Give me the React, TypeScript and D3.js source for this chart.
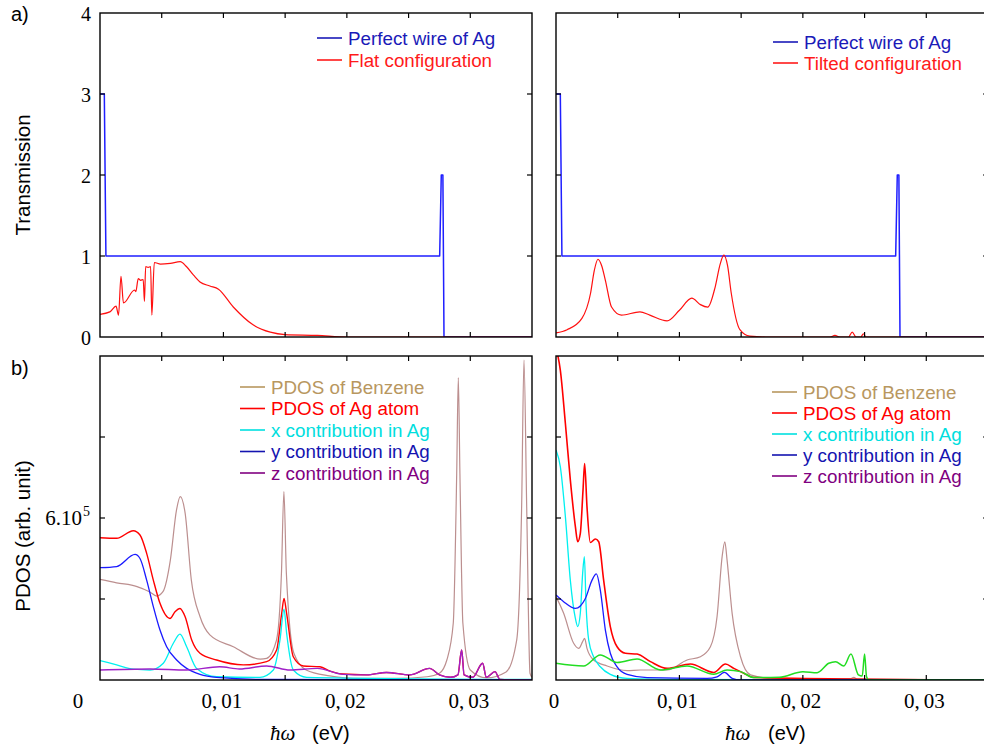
import React from "react";
import * as d3 from "d3";

// ---------- data ----------
const xTickValues = [0, 0.005, 0.01, 0.015, 0.02, 0.025, 0.03, 0.035];
const xTickLabels = ["0", "0,01", "0,02", "0,03"];
const xTickLabelValues = [0, 0.01, 0.02, 0.03];
const transTicks = [0, 1, 2, 3, 4];
const pdosTicks = [3, 6, 9];

// perfect Ag wire transmission
const wireX = [0, 0.00035, 0.00048, 0.02752, 0.02765, 0.02778, 0.02787, 0.035];
const wireT = [3, 3, 1, 1, 2, 2, 0, 0];

// flat configuration
const flatX = [0, 0.0008, 0.0013, 0.0015, 0.0017, 0.0019, 0.0028, 0.0029, 0.0031, 0.0033, 0.0035, 0.0036, 0.0037, 0.0039, 0.0041, 0.0042, 0.0044, 0.0049, 0.0057, 0.0065, 0.007, 0.0076, 0.0081, 0.0089, 0.0096, 0.0108, 0.0124, 0.0138, 0.015, 0.0176, 0.02, 0.035];
const flatT = [0.28, 0.31, 0.38, 0.27, 0.75, 0.42, 0.58, 0.56, 0.72, 0.7, 0.71, 0.44, 0.87, 0.86, 0.87, 0.27, 0.92, 0.9, 0.91, 0.93, 0.87, 0.76, 0.68, 0.63, 0.59, 0.37, 0.15, 0.06, 0.03, 0.02, 0, 0];

// tilted configuration
const tiltX = [0, 0.0009, 0.0021, 0.0028, 0.0031, 0.0034, 0.0037, 0.004, 0.0045, 0.0053, 0.0068, 0.0076, 0.009, 0.01, 0.011, 0.0117, 0.0123, 0.0129, 0.0133, 0.0136, 0.0139, 0.0142, 0.0149, 0.0157, 0.017, 0.0222, 0.0226, 0.023, 0.0237, 0.024, 0.0243, 0.0247, 0.0249, 0.0251, 0.026, 0.035];
const tiltT = [0.05, 0.09, 0.23, 0.54, 0.82, 0.96, 0.88, 0.7, 0.37, 0.27, 0.31, 0.27, 0.2, 0.33, 0.48, 0.4, 0.37, 0.62, 0.9, 1.01, 0.88, 0.54, 0.09, 0.01, 0, 0, 0.02, 0, 0, 0.06, 0, 0, 0.04, 0, 0, 0];

// PDOS (units of 1e5), flat configuration
const benzLX = [0, 0.00135, 0.003, 0.004, 0.0046, 0.0051, 0.0057, 0.0062, 0.0065, 0.0069, 0.0074, 0.0081, 0.0089, 0.0108, 0.013, 0.0135, 0.0143, 0.0147, 0.0149, 0.0151, 0.0157, 0.0167, 0.0186, 0.0205, 0.024, 0.0265, 0.0275, 0.0281, 0.02862, 0.0289, 0.02903, 0.02916, 0.0294, 0.03, 0.0313, 0.0329, 0.03376, 0.03416, 0.03435, 0.03457, 0.03484, 0.035];
const benzLY = [3.73, 3.6, 3.46, 3.27, 3.11, 3.27, 4.44, 6.3, 6.79, 6.17, 3.7, 2.35, 1.67, 1.23, 0.77, 0.8, 1.48, 3.95, 6.98, 3.95, 1.0, 0.37, 0.15, 0.06, 0.06, 0.12, 0.25, 0.74, 2.1, 7.65, 11.2, 7.65, 2.1, 0.37, 0.08, 0.3, 1.48, 6.42, 11.85, 6.42, 0.25, 0.1];

const agLX = [0, 0.00135, 0.0027, 0.00324, 0.00378, 0.00432, 0.00486, 0.00567, 0.00608, 0.00648, 0.00689, 0.00743, 0.0081, 0.00945, 0.01161, 0.0135, 0.01431, 0.01472, 0.01491, 0.01512, 0.01566, 0.01647, 0.01782, 0.01863, 0.0197, 0.0216, 0.0232, 0.0251, 0.0267, 0.0275, 0.0284, 0.029, 0.0293, 0.0295, 0.0302, 0.031, 0.0313, 0.032, 0.0324, 0.035];
const agLY = [5.27, 5.25, 5.53, 5.37, 4.69, 3.7, 2.84, 2.28, 2.53, 2.65, 2.35, 1.48, 0.99, 0.74, 0.56, 0.68, 1.11, 2.47, 3.02, 2.47, 0.86, 0.52, 0.49, 0.33, 0.22, 0.19, 0.28, 0.19, 0.43, 0.19, 0.1, 0.19, 1.11, 0.19, 0.1, 0.62, 0.1, 0.31, 0.02, 0];

const xcLX = [0, 0.00135, 0.0027, 0.00405, 0.00513, 0.00594, 0.00648, 0.00702, 0.00783, 0.00945, 0.01296, 0.01404, 0.01458, 0.01491, 0.01512, 0.01566, 0.01674, 0.035];
const xcLY = [0.72, 0.56, 0.4, 0.37, 0.62, 1.36, 1.7, 1.23, 0.43, 0.12, 0.1, 0.37, 1.48, 2.62, 1.73, 0.37, 0.1, 0.02];

const ycLX = [0, 0.00135, 0.00284, 0.00324, 0.00378, 0.00432, 0.00486, 0.0054, 0.00621, 0.00702, 0.0081, 0.00945, 0.0135, 0.035];
const ycLY = [4.16, 4.2, 4.65, 4.5, 3.7, 2.72, 1.85, 1.23, 0.74, 0.43, 0.21, 0.1, 0.02, 0];

const zcLX = [0, 0.00405, 0.00702, 0.0097, 0.0113, 0.0135, 0.0154, 0.0176, 0.0197, 0.0216, 0.0232, 0.0251, 0.0267, 0.0275, 0.0284, 0.029, 0.0293, 0.0295, 0.0302, 0.031, 0.0313, 0.032, 0.0324, 0.035];
const zcLY = [0.37, 0.41, 0.37, 0.49, 0.41, 0.52, 0.37, 0.43, 0.21, 0.19, 0.28, 0.19, 0.43, 0.19, 0.1, 0.19, 1.11, 0.19, 0.1, 0.62, 0.1, 0.31, 0.02, 0];

// PDOS, tilted configuration
const benzRX = [0, 0.00062, 0.00143, 0.00184, 0.00216, 0.00232, 0.00251, 0.00305, 0.00414, 0.00576, 0.00684, 0.009, 0.01062, 0.0117, 0.01251, 0.01305, 0.01346, 0.01368, 0.01386, 0.01427, 0.01495, 0.01576, 0.01765, 0.02386, 0.02413, 0.0244, 0.035];
const benzRY = [3.09, 2.47, 1.36, 1.17, 1.42, 1.54, 1.17, 0.74, 0.52, 0.35, 0.37, 0.37, 0.74, 0.86, 1.23, 2.35, 4.57, 5.12, 4.44, 2.47, 0.86, 0.19, 0.05, 0.05, 0.1, 0.03, 0];

const agRX = [0, 0.00035, 0.00076, 0.00116, 0.00157, 0.00176, 0.00197, 0.00219, 0.00232, 0.00251, 0.00278, 0.00319, 0.00346, 0.00386, 0.0044, 0.00495, 0.00562, 0.00657, 0.00765, 0.009, 0.01089, 0.01278, 0.01373, 0.01441, 0.01522, 0.01603, 0.035];
const agRY = [12.3, 11.48, 9.5, 7.41, 5.68, 5.12, 5.43, 7.04, 8.02, 6.42, 5.09, 5.22, 5.12, 3.7, 1.98, 1.23, 0.99, 0.96, 0.68, 0.43, 0.59, 0.28, 0.59, 0.43, 0.25, 0.09, 0];

const xcRX = [0, 0.00035, 0.00076, 0.00116, 0.00157, 0.00176, 0.00197, 0.00216, 0.0023, 0.00243, 0.00265, 0.00305, 0.00359, 0.0044, 0.00576, 0.01, 0.035];
const xcRY = [8.52, 7.9, 6.05, 3.7, 2.28, 1.98, 2.47, 3.95, 4.57, 2.84, 1.48, 0.86, 0.49, 0.21, 0.06, 0.02, 0];

const ycRX = [0, 0.00062, 0.00157, 0.00238, 0.00292, 0.00327, 0.00359, 0.004, 0.0044, 0.00495, 0.00576, 0.00738, 0.01224, 0.01305, 0.01365, 0.01427, 0.01495, 0.035];
const ycRY = [3.15, 2.9, 2.65, 3.02, 3.7, 3.93, 3.33, 1.85, 0.99, 0.49, 0.21, 0.09, 0.06, 0.12, 0.28, 0.06, 0, 0];

const gRX = [0, 0.00224, 0.00359, 0.00495, 0.00657, 0.00846, 0.01062, 0.01278, 0.01386, 0.01495, 0.01603, 0.0181, 0.02, 0.02116, 0.0221, 0.02265, 0.02332, 0.0239, 0.0245, 0.02481, 0.025, 0.02516, 0.02535, 0.035];
const gRY = [0.62, 0.52, 0.93, 0.65, 0.78, 0.37, 0.52, 0.21, 0.37, 0.31, 0.09, 0.1, 0.31, 0.27, 0.62, 0.68, 0.52, 0.96, 0.19, 0.15, 0.96, 0.12, 0, 0];

// ---------- layout ----------
const W = 984;
const H = 751;
const PW = 432;
const PH = 324;
const leftX = 100;
const rightX = 556;
const topY = 13;
const botY = 356;

const SANS = "'Liberation Sans', Arial, sans-serif";
const SERIF = "'Liberation Serif', 'Times New Roman', serif";

type Series = { xs: number[]; ys: number[]; color: string; width: number; curve?: any };

function Panel(props: {
  id: string;
  x0: number;
  y0: number;
  yMax: number;
  yTicks: number[];
  series: Series[];
}) {
  const { id, x0, y0, yMax, yTicks, series } = props;
  const xs = d3.scaleLinear().domain([0, 0.035]).range([x0, x0 + PW]);
  const ys = d3.scaleLinear().domain([0, yMax]).range([y0 + PH, y0]);
  const t = 5;
  return (
    <g>
      <defs>
        <clipPath id={id}>
          <rect x={x0} y={y0} width={PW} height={PH} />
        </clipPath>
      </defs>
      <g clipPath={`url(#${id})`}>
        {series.map((s, i) => {
          const pts = s.xs.map((v, k) => [v, s.ys[k]] as [number, number]);
          const line = d3
            .line<[number, number]>()
            .x((d) => xs(d[0]))
            .y((d) => ys(d[1]))
            .curve(s.curve || d3.curveMonotoneX);
          return (
            <path key={i} d={line(pts) || ""} fill="none" stroke={s.color} strokeWidth={s.width} strokeLinejoin="round" />
          );
        })}
      </g>
      {xTickValues.slice(1, -1).map((v) => (
        <g key={"xt" + v} stroke="#000" strokeWidth={1.2}>
          <line x1={xs(v)} x2={xs(v)} y1={y0 + PH} y2={y0 + PH - t} />
          <line x1={xs(v)} x2={xs(v)} y1={y0} y2={y0 + t} />
        </g>
      ))}
      {yTicks.map((v) => (
        <g key={"yt" + v} stroke="#000" strokeWidth={1.2}>
          <line x1={x0} x2={x0 + t} y1={ys(v)} y2={ys(v)} />
          <line x1={x0 + PW} x2={x0 + PW - t} y1={ys(v)} y2={ys(v)} />
        </g>
      ))}
      <rect x={x0} y={y0} width={PW} height={PH} fill="none" stroke="#000" strokeWidth={1.4} />
    </g>
  );
}

function Legend(props: { x: number; y: number; dy: number; items: { label: string; line: string; text: string }[] }) {
  const { x, y, dy, items } = props;
  return (
    <g>
      {items.map((it, i) => (
        <g key={i}>
          <line x1={x} x2={x + 25} y1={y + i * dy} y2={y + i * dy} stroke={it.line} strokeWidth={1.6} />
          <text x={x + 31} y={y + i * dy + 6.5} fill={it.text} fontFamily={SANS} fontSize={18.8}>
            {it.label}
          </text>
        </g>
      ))}
    </g>
  );
}

function TickLabel(props: { x: number; label: string }) {
  const parts = props.label.split(",");
  return (
    <text x={props.x} y={708} textAnchor="middle" fontFamily={SERIF} fontSize={21}>
      {parts.length === 2 ? (
        <>
          <tspan>{parts[0] + ","}</tspan>
          <tspan dx={4}>{parts[1]}</tspan>
        </>
      ) : (
        parts[0]
      )}
    </text>
  );
}

export default function App() {
  const xsL = d3.scaleLinear().domain([0, 0.035]).range([leftX, leftX + PW]);
  const xsR = d3.scaleLinear().domain([0, 0.035]).range([rightX, rightX + PW]);
  const ysT = d3.scaleLinear().domain([0, 4]).range([topY + PH, topY]);
  const ysB = d3.scaleLinear().domain([0, 12]).range([botY + PH, botY]);

  const blue = "#1f1fff";
  const wireSeries: Series = { xs: wireX, ys: wireT, color: blue, width: 1.5, curve: d3.curveLinear };

  const topLegendFlat = [
    { label: "Perfect wire of Ag", line: "#1a1ab8", text: "#1a1ab8" },
    { label: "Flat configuration", line: "#ff1a1a", text: "#ff1a1a" },
  ];
  const topLegendTilt = [
    { label: "Perfect wire of Ag", line: "#1a1ab8", text: "#1a1ab8" },
    { label: "Tilted configuration", line: "#ff1a1a", text: "#ff1a1a" },
  ];
  const pdosLegend = [
    { label: "PDOS of Benzene", line: "#b8975f", text: "#b8975f" },
    { label: "PDOS of Ag atom", line: "#ff0000", text: "#ff0000" },
    { label: "x contribution in Ag", line: "#00e0e0", text: "#00dede" },
    { label: "y contribution in Ag", line: "#1414b0", text: "#1414b0" },
    { label: "z contribution in Ag", line: "#800080", text: "#800080" },
  ];

  return (
    <svg width={W} height={H} style={{ position: "absolute", left: 0, top: 0, background: "#fff" }}>
      <rect x={0} y={0} width={W} height={H} fill="#fff" />
      {/* top panels */}
      <Panel
        id="cTL"
        x0={leftX}
        y0={topY}
        yMax={4}
        yTicks={[1, 2, 3]}
        series={[wireSeries, { xs: flatX, ys: flatT, color: "#ff1010", width: 1.2 }]}
      />
      <Panel
        id="cTR"
        x0={rightX}
        y0={topY}
        yMax={4}
        yTicks={[1, 2, 3]}
        series={[wireSeries, { xs: tiltX, ys: tiltT, color: "#ff1010", width: 1.2 }]}
      />
      {/* bottom panels */}
      <Panel
        id="cBL"
        x0={leftX}
        y0={botY}
        yMax={12}
        yTicks={pdosTicks}
        series={[
          { xs: benzLX, ys: benzLY, color: "#bc8f8f", width: 1.2 },
          { xs: agLX, ys: agLY, color: "#ff0000", width: 1.4 },
          { xs: xcLX, ys: xcLY, color: "#00f0f0", width: 1.3 },
          { xs: ycLX, ys: ycLY, color: "#1a1aff", width: 1.3 },
          { xs: zcLX, ys: zcLY, color: "#a020c8", width: 1.4 },
        ]}
      />
      <Panel
        id="cBR"
        x0={rightX}
        y0={botY}
        yMax={12}
        yTicks={pdosTicks}
        series={[
          { xs: benzRX, ys: benzRY, color: "#bc8f8f", width: 1.2 },
          { xs: agRX, ys: agRY, color: "#ff0000", width: 1.6 },
          { xs: xcRX, ys: xcRY, color: "#00f0f0", width: 1.3 },
          { xs: ycRX, ys: ycRY, color: "#1a1aff", width: 1.3 },
          { xs: gRX, ys: gRY, color: "#22dd22", width: 1.5 },
        ]}
      />

      {/* y tick labels, transmission */}
      {transTicks.map((v) => (
        <text key={"tl" + v} x={91} y={ysT(v) + 8} textAnchor="end" fontFamily={SERIF} fontSize={20}>
          {String(v)}
        </text>
      ))}
      {/* y tick label PDOS */}
      <text x={82} y={ysB(6) + 7} textAnchor="end" fontFamily={SERIF} fontSize={21}>
        6.10
      </text>
      <text x={83} y={ysB(6) - 2} fontFamily={SERIF} fontSize={14}>
        5
      </text>

      {/* x tick labels */}
      {xTickLabelValues.map((v, i) => (
        <TickLabel key={"xl" + v} x={i === 0 ? 78 : xsL(v) - 1.5} label={xTickLabels[i]} />
      ))}
      {xTickLabelValues.map((v, i) => (
        <TickLabel key={"xr" + v} x={xsR(v) - 2} label={xTickLabels[i]} />
      ))}

      {/* x axis titles */}
      <text x={270} y={740} fontFamily={SERIF} fontStyle="italic" fontSize={21}>
        ħω
      </text>
      <text x={312} y={740} fontFamily={SANS} fontSize={20}>
        (eV)
      </text>
      <text x={725} y={740} fontFamily={SERIF} fontStyle="italic" fontSize={21}>
        ħω
      </text>
      <text x={768} y={740} fontFamily={SANS} fontSize={20}>
        (eV)
      </text>

      {/* y axis titles */}
      <text transform={`translate(30,${topY + PH / 2}) rotate(-90)`} textAnchor="middle" fontFamily={SANS} fontSize={20.5}>
        Transmission
      </text>
      <text transform={`translate(30,${botY + PH / 2 + 18}) rotate(-90)`} textAnchor="middle" fontFamily={SANS} fontSize={20.5}>
        PDOS (arb. unit)
      </text>

      {/* panel labels */}
      <text x={11} y={21} fontFamily={SANS} fontSize={20}>
        a)
      </text>
      <text x={11} y={375} fontFamily={SANS} fontSize={20}>
        b)
      </text>

      {/* legends */}
      <Legend x={317} y={38} dy={22} items={topLegendFlat} />
      <Legend x={773} y={42} dy={21} items={topLegendTilt} />
      <Legend x={240} y={387} dy={21.5} items={pdosLegend} />
      <Legend x={772} y={392} dy={21} items={pdosLegend} />
    </svg>
  );
}
